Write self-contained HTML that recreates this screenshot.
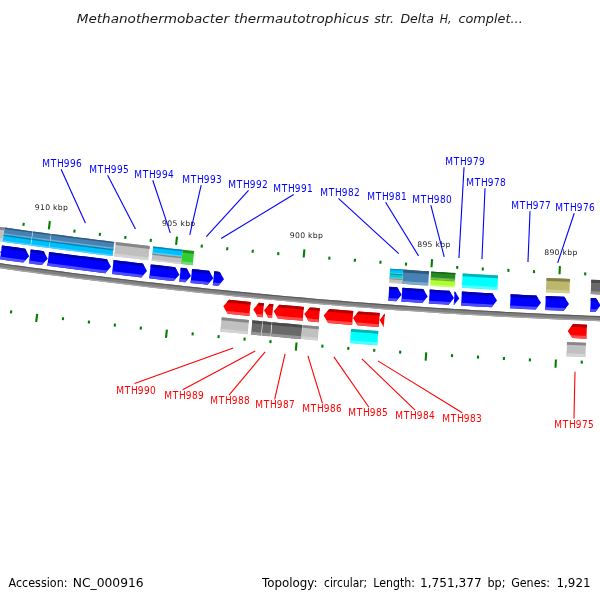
<!DOCTYPE html>
<html lang="en"><head><meta charset="utf-8"><title>Methanothermobacter thermautotrophicus str. Delta H - CGView map</title>
<style>
html,body{margin:0;padding:0;background:#fff}
body{width:600px;height:600px;overflow:hidden;position:relative;font-family:"DejaVu Sans","Liberation Sans",sans-serif}
svg{position:absolute;left:0;top:0;display:block}
svg text{font-family:"DejaVu Sans","Liberation Sans",sans-serif}
svg text.gl{font-family:"DejaVu Sans Condensed","DejaVu Sans","Liberation Sans",sans-serif;font-size:10px}
</style></head><body>
<svg width="600" height="600" viewBox="0 0 600 600">
<rect width="600" height="600" fill="#ffffff"/>
<text y="23.2" font-size="13" fill="#1a1a1a" font-style="italic"><tspan x="76.7" textLength="152.3" lengthAdjust="spacingAndGlyphs">Methanothermobacter</tspan> <tspan x="233.9" textLength="135.1" lengthAdjust="spacingAndGlyphs">thermautotrophicus</tspan> <tspan x="374.2" textLength="19.8" lengthAdjust="spacingAndGlyphs">str.</tspan> <tspan x="400.4" textLength="33.6" lengthAdjust="spacingAndGlyphs">Delta</tspan> <tspan x="439.7" textLength="11.8" lengthAdjust="spacingAndGlyphs">H,</tspan> <tspan x="458.4" textLength="64.4" lengthAdjust="spacingAndGlyphs">complet...</tspan></text>
<g>
<path d="M-9.69,261.79 L0.58,263.24 L10.86,264.68 L21.13,266.09 L31.41,267.49 L41.7,268.86 L51.98,270.22 L62.27,271.57 L72.56,272.89 L82.85,274.19 L93.15,275.48 L103.44,276.75 L113.74,278 L124.04,279.23 L134.34,280.44 L144.65,281.64 L154.96,282.81 L165.27,283.97 L175.58,285.11 L185.89,286.23 L196.21,287.34 L206.53,288.42 L216.84,289.49 L227.17,290.54 L237.49,291.57 L247.81,292.58 L258.14,293.57 L268.47,294.55 L278.8,295.5 L289.13,296.44 L299.46,297.36 L309.8,298.26 L320.14,299.15 L330.48,300.01 L340.81,300.86 L351.16,301.68 L361.5,302.49 L371.84,303.29 L382.19,304.06 L392.54,304.81 L402.88,305.55 L413.23,306.27 L423.58,306.97 L433.94,307.65 L444.29,308.31 L454.64,308.95 L465,309.58 L475.36,310.19 L485.71,310.78 L496.07,311.35 L506.43,311.9 L516.79,312.43 L527.15,312.95 L537.52,313.44 L547.88,313.92 L558.24,314.38 L568.61,314.82 L578.97,315.25 L589.34,315.65 L599.71,316.04 L610.08,316.41 L609.9,321.5 L599.52,321.14 L589.15,320.75 L578.77,320.34 L568.4,319.92 L558.02,319.48 L547.65,319.02 L537.28,318.54 L526.91,318.04 L516.53,317.53 L506.16,316.99 L495.8,316.44 L485.43,315.87 L475.06,315.28 L464.7,314.67 L454.33,314.04 L443.97,313.4 L433.61,312.74 L423.24,312.06 L412.88,311.36 L402.53,310.64 L392.17,309.9 L381.81,309.14 L371.46,308.37 L361.11,307.58 L350.75,306.77 L340.4,305.94 L330.05,305.09 L319.71,304.23 L309.36,303.34 L299.02,302.44 L288.67,301.52 L278.33,300.58 L267.99,299.62 L257.66,298.65 L247.32,297.65 L236.99,296.64 L226.66,295.61 L216.32,294.56 L206,293.49 L195.67,292.41 L185.35,291.3 L175.02,290.18 L164.7,289.04 L154.38,287.88 L144.07,286.7 L133.75,285.51 L123.44,284.29 L113.13,283.06 L102.82,281.81 L92.52,280.54 L82.21,279.25 L71.91,277.95 L61.61,276.62 L51.32,275.28 L41.02,273.92 L30.73,272.54 L20.44,271.14 L10.16,269.73 L-0.13,268.29 L-10.41,266.84Z" fill="#808080"/>
<path d="M-9.69,261.79 L0.58,263.24 L10.86,264.68 L21.13,266.09 L31.41,267.49 L41.7,268.86 L51.98,270.22 L62.27,271.57 L72.56,272.89 L82.85,274.19 L93.15,275.48 L103.44,276.75 L113.74,278 L124.04,279.23 L134.34,280.44 L144.65,281.64 L154.96,282.81 L165.27,283.97 L175.58,285.11 L185.89,286.23 L196.21,287.34 L206.53,288.42 L216.84,289.49 L227.17,290.54 L237.49,291.57 L247.81,292.58 L258.14,293.57 L268.47,294.55 L278.8,295.5 L289.13,296.44 L299.46,297.36 L309.8,298.26 L320.14,299.15 L330.48,300.01 L340.81,300.86 L351.16,301.68 L361.5,302.49 L371.84,303.29 L382.19,304.06 L392.54,304.81 L402.88,305.55 L413.23,306.27 L423.58,306.97 L433.94,307.65 L444.29,308.31 L454.64,308.95 L465,309.58 L475.36,310.19 L485.71,310.78 L496.07,311.35 L506.43,311.9 L516.79,312.43 L527.15,312.95 L537.52,313.44 L547.88,313.92 L558.24,314.38 L568.61,314.82 L578.97,315.25 L589.34,315.65 L599.71,316.04 L610.08,316.41 L610.04,317.51 L599.67,317.14 L589.3,316.75 L578.93,316.35 L568.56,315.92 L558.2,315.48 L547.83,315.02 L537.46,314.54 L527.1,314.05 L516.74,313.53 L506.37,313 L496.01,312.44 L485.65,311.87 L475.29,311.29 L464.93,310.68 L454.58,310.05 L444.22,309.41 L433.86,308.74 L423.51,308.06 L413.16,307.36 L402.81,306.65 L392.46,305.91 L382.11,305.16 L371.76,304.38 L361.41,303.59 L351.07,302.78 L340.73,301.95 L330.38,301.11 L320.04,300.24 L309.71,299.36 L299.37,298.46 L289.03,297.54 L278.7,296.6 L268.37,295.64 L258.04,294.67 L247.71,293.67 L237.38,292.66 L227.06,291.63 L216.73,290.58 L206.41,289.52 L196.09,288.43 L185.77,287.33 L175.46,286.21 L165.15,285.07 L154.83,283.91 L144.52,282.73 L134.22,281.53 L123.91,280.32 L113.61,279.09 L103.31,277.84 L93.01,276.57 L82.71,275.28 L72.42,273.98 L62.13,272.66 L51.84,271.31 L41.55,269.95 L31.27,268.58 L20.99,267.18 L10.71,265.77 L0.43,264.33 L-9.85,262.88Z" fill="#595959"/>
<path d="M-10.24,265.65 L0.04,267.11 L10.32,268.54 L20.61,269.95 L30.89,271.35 L41.18,272.73 L51.47,274.09 L61.77,275.43 L72.07,276.76 L82.36,278.06 L92.67,279.35 L102.97,280.62 L113.27,281.87 L123.58,283.1 L133.89,284.32 L144.2,285.51 L154.52,286.69 L164.84,287.85 L175.15,288.99 L185.47,290.11 L195.8,291.22 L206.12,292.3 L216.45,293.37 L226.78,294.42 L237.11,295.45 L247.44,296.46 L257.77,297.45 L268.11,298.43 L278.44,299.39 L288.78,300.33 L299.12,301.25 L309.46,302.15 L319.81,303.03 L330.15,303.9 L340.5,304.74 L350.85,305.57 L361.2,306.38 L371.55,307.17 L381.9,307.95 L392.26,308.7 L402.61,309.44 L412.97,310.16 L423.32,310.86 L433.68,311.54 L444.04,312.2 L454.4,312.85 L464.77,313.47 L475.13,314.08 L485.5,314.67 L495.86,315.24 L506.23,315.79 L516.6,316.33 L526.96,316.84 L537.33,317.34 L547.7,317.82 L558.07,318.28 L568.45,318.72 L578.82,319.15 L589.19,319.55 L599.57,319.94 L609.94,320.31 L609.9,321.5 L599.52,321.14 L589.15,320.75 L578.77,320.34 L568.4,319.92 L558.02,319.48 L547.65,319.02 L537.28,318.54 L526.91,318.04 L516.53,317.53 L506.16,316.99 L495.8,316.44 L485.43,315.87 L475.06,315.28 L464.7,314.67 L454.33,314.04 L443.97,313.4 L433.61,312.74 L423.24,312.06 L412.88,311.36 L402.53,310.64 L392.17,309.9 L381.81,309.14 L371.46,308.37 L361.11,307.58 L350.75,306.77 L340.4,305.94 L330.05,305.09 L319.71,304.23 L309.36,303.34 L299.02,302.44 L288.67,301.52 L278.33,300.58 L267.99,299.62 L257.66,298.65 L247.32,297.65 L236.99,296.64 L226.66,295.61 L216.32,294.56 L206,293.49 L195.67,292.41 L185.35,291.3 L175.02,290.18 L164.7,289.04 L154.38,287.88 L144.07,286.7 L133.75,285.51 L123.44,284.29 L113.13,283.06 L102.82,281.81 L92.52,280.54 L82.21,279.25 L71.91,277.95 L61.61,276.62 L51.32,275.28 L41.02,273.92 L30.73,272.54 L20.44,271.14 L10.16,269.73 L-0.13,268.29 L-10.41,266.84Z" fill="#a6a6a6"/>
</g>
<path d="M-38.98,239.56 L-31.82,240.62 L-24.65,241.66 L-17.49,242.7 L-10.33,243.72 L-3.16,244.74 L0.8,252.37 L-5.12,258.6 L-12.3,257.58 L-19.49,256.55 L-26.67,255.51 L-33.85,254.47 L-41.02,253.41Z" fill="#0000ff"/>
<path d="M-38.98,239.56 L-31.82,240.62 L-24.65,241.66 L-17.49,242.7 L-10.33,243.72 L-3.16,244.74 L-1.58,247.79 L-3.55,247.51 L-10.72,246.49 L-17.89,245.47 L-25.06,244.43 L-32.22,243.39 L-39.39,242.33Z" fill="#0000b2"/>
<path d="M-40.61,250.64 L-33.44,251.7 L-26.26,252.74 L-19.09,253.78 L-11.91,254.81 L-4.73,255.83 L-2.75,256.11 L-5.12,258.6 L-12.3,257.58 L-19.49,256.55 L-26.67,255.51 L-33.85,254.47 L-41.02,253.41Z" fill="#4d4dff"/>
<path d="M1.97,245.46 L9.72,246.55 L17.46,247.62 L25.2,248.68 L29.2,256.29 L23.31,262.55 L15.55,261.49 L7.79,260.41 L0.03,259.33Z" fill="#0000ff"/>
<path d="M1.97,245.46 L9.72,246.55 L17.46,247.62 L25.2,248.68 L26.8,251.72 L24.82,251.46 L17.08,250.39 L9.33,249.32 L1.58,248.24Z" fill="#0000b2"/>
<path d="M0.42,256.56 L8.17,257.64 L15.93,258.71 L23.69,259.78 L25.67,260.05 L23.31,262.55 L15.55,261.49 L7.79,260.41 L0.03,259.33Z" fill="#4d4dff"/>
<path d="M30.74,249.43 L35.05,250.02 L39.37,250.6 L43.68,251.17 L47.7,258.77 L41.83,265.05 L37.51,264.47 L33.18,263.89 L28.86,263.31Z" fill="#0000ff"/>
<path d="M30.74,249.43 L35.05,250.02 L39.37,250.6 L43.68,251.17 L45.29,254.21 L43.31,253.95 L38.99,253.37 L34.68,252.79 L30.36,252.21Z" fill="#0000b2"/>
<path d="M29.24,260.53 L33.56,261.12 L37.88,261.7 L42.2,262.27 L44.18,262.54 L41.83,265.05 L37.51,264.47 L33.18,263.89 L28.86,263.31Z" fill="#4d4dff"/>
<path d="M49.12,251.89 L58.74,253.16 L68.37,254.41 L78,255.64 L87.63,256.85 L97.26,258.05 L106.9,259.24 L111,266.79 L105.2,273.13 L95.54,271.95 L85.89,270.74 L76.23,269.53 L66.58,268.29 L56.93,267.04 L47.28,265.77Z" fill="#0000ff"/>
<path d="M49.12,251.89 L58.74,253.16 L68.37,254.41 L78,255.64 L87.63,256.85 L97.26,258.05 L106.9,259.24 L108.54,262.26 L106.56,262.02 L96.92,260.83 L87.28,259.63 L77.64,258.41 L68.01,257.18 L58.38,255.93 L48.75,254.67Z" fill="#0000b2"/>
<path d="M47.65,263 L57.29,264.26 L66.94,265.51 L76.59,266.75 L86.23,267.97 L95.89,269.17 L105.54,270.35 L107.52,270.6 L105.2,273.13 L95.54,271.95 L85.89,270.74 L76.23,269.53 L66.58,268.29 L56.93,267.04 L47.28,265.77Z" fill="#4d4dff"/>
<path d="M113.64,260.06 L120.94,260.93 L128.24,261.8 L135.54,262.66 L142.85,263.51 L147,271.04 L141.24,277.42 L133.92,276.57 L126.6,275.71 L119.28,274.83 L111.96,273.96Z" fill="#0000ff"/>
<path d="M113.64,260.06 L120.94,260.93 L128.24,261.8 L135.54,262.66 L142.85,263.51 L144.51,266.52 L142.53,266.29 L135.22,265.44 L127.91,264.58 L120.61,263.71 L113.3,262.84Z" fill="#0000b2"/>
<path d="M112.3,271.18 L119.61,272.05 L126.93,272.92 L134.24,273.79 L141.56,274.64 L143.54,274.87 L141.24,277.42 L133.92,276.57 L126.6,275.71 L119.28,274.83 L111.96,273.96Z" fill="#4d4dff"/>
<path d="M150.8,264.43 L156.9,265.12 L163,265.81 L169.1,266.49 L175.21,267.16 L179.4,274.67 L173.68,281.08 L167.56,280.4 L161.44,279.72 L155.32,279.03 L149.2,278.33Z" fill="#0000ff"/>
<path d="M150.8,264.43 L156.9,265.12 L163,265.81 L169.1,266.49 L175.21,267.16 L176.88,270.16 L174.9,269.95 L168.79,269.27 L162.69,268.59 L156.58,267.9 L150.48,267.21Z" fill="#0000b2"/>
<path d="M149.52,275.55 L155.64,276.25 L161.75,276.94 L167.87,277.62 L173.98,278.3 L175.97,278.51 L173.68,281.08 L167.56,280.4 L161.44,279.72 L155.32,279.03 L149.2,278.33Z" fill="#4d4dff"/>
<path d="M180.76,267.77 L183.78,268.1 L186.79,268.43 L191,275.92 L185.29,282.35 L182.26,282.02 L179.24,281.69Z" fill="#0000ff"/>
<path d="M180.76,267.77 L183.78,268.1 L186.79,268.43 L188.47,271.42 L186.49,271.21 L183.47,270.88 L180.46,270.56Z" fill="#0000b2"/>
<path d="M179.54,278.91 L182.57,279.24 L185.59,279.56 L187.57,279.78 L185.29,282.35 L182.26,282.02 L179.24,281.69Z" fill="#4d4dff"/>
<path d="M192.05,268.99 L197.72,269.6 L203.39,270.2 L209.06,270.79 L213.3,278.27 L207.61,284.71 L201.93,284.12 L196.24,283.52 L190.55,282.91Z" fill="#0000ff"/>
<path d="M192.05,268.99 L197.72,269.6 L203.39,270.2 L209.06,270.79 L210.76,273.78 L208.77,273.57 L203.1,272.98 L197.42,272.38 L191.75,271.78Z" fill="#0000b2"/>
<path d="M190.85,280.13 L196.54,280.73 L202.22,281.33 L207.9,281.93 L209.89,282.14 L207.61,284.71 L201.93,284.12 L196.24,283.52 L190.55,282.91Z" fill="#4d4dff"/>
<path d="M214.22,271.32 L216.98,271.61 L219.75,271.89 L224,279.36 L218.32,285.82 L215.55,285.54 L212.78,285.25Z" fill="#0000ff"/>
<path d="M214.22,271.32 L216.98,271.61 L219.75,271.89 L221.45,274.88 L219.46,274.68 L216.7,274.39 L213.93,274.11Z" fill="#0000b2"/>
<path d="M213.07,282.47 L215.84,282.75 L218.61,283.03 L220.6,283.24 L218.32,285.82 L215.55,285.54 L212.78,285.25Z" fill="#4d4dff"/>
<path d="M389.31,286.73 L393.27,287.02 L397.22,287.3 L401.7,294.64 L396.22,301.27 L392.26,300.98 L388.29,300.7Z" fill="#0000ff"/>
<path d="M389.31,286.73 L393.27,287.02 L397.22,287.3 L399.01,290.24 L397.02,290.1 L393.06,289.81 L389.1,289.53Z" fill="#0000b2"/>
<path d="M388.5,297.9 L392.46,298.19 L396.42,298.48 L398.42,298.62 L396.22,301.27 L392.26,300.98 L388.29,300.7Z" fill="#4d4dff"/>
<path d="M402.39,287.67 L409.32,288.16 L416.26,288.63 L423.19,289.1 L427.7,296.42 L422.25,303.07 L415.3,302.6 L408.36,302.12 L401.41,301.64Z" fill="#0000ff"/>
<path d="M402.39,287.67 L409.32,288.16 L416.26,288.63 L423.19,289.1 L424.99,292.03 L423,291.89 L416.07,291.43 L409.13,290.95 L402.2,290.46Z" fill="#0000b2"/>
<path d="M401.6,298.84 L408.55,299.33 L415.5,299.81 L422.44,300.28 L424.43,300.41 L422.25,303.07 L415.3,302.6 L408.36,302.12 L401.41,301.64Z" fill="#4d4dff"/>
<path d="M429.76,289.54 L436.32,289.96 L442.89,290.39 L449.46,290.8 L454,298.09 L448.58,304.77 L442,304.36 L435.42,303.94 L428.84,303.51Z" fill="#0000ff"/>
<path d="M429.76,289.54 L436.32,289.96 L442.89,290.39 L449.46,290.8 L451.27,293.72 L449.28,293.59 L442.71,293.18 L436.14,292.76 L429.58,292.33Z" fill="#0000b2"/>
<path d="M429.02,300.71 L435.6,301.14 L442.18,301.56 L448.76,301.98 L450.75,302.1 L448.58,304.77 L442,304.36 L435.42,303.94 L428.84,303.51Z" fill="#4d4dff"/>
<path d="M454.63,291.12 L454.69,291.12 L454.75,291.13 L459.3,298.42 L453.89,305.1 L453.83,305.1 L453.77,305.09Z" fill="#0000ff"/>
<path d="M454.63,291.12 L454.69,291.12 L454.75,291.13 L456.57,294.04 L454.58,293.92 L454.52,293.92 L454.46,293.91Z" fill="#0000b2"/>
<path d="M453.94,302.3 L454,302.3 L454.06,302.31 L456.06,302.43 L453.89,305.1 L453.83,305.1 L453.77,305.09Z" fill="#4d4dff"/>
<path d="M461.92,291.56 L469.54,292.02 L477.16,292.46 L484.78,292.9 L492.4,293.32 L497,300.58 L491.63,307.3 L483.99,306.87 L476.36,306.44 L468.72,305.99 L461.08,305.54Z" fill="#0000ff"/>
<path d="M461.92,291.56 L469.54,292.02 L477.16,292.46 L484.78,292.9 L492.4,293.32 L494.24,296.22 L492.25,296.12 L484.62,295.69 L477,295.26 L469.38,294.81 L461.75,294.36Z" fill="#0000b2"/>
<path d="M461.25,302.74 L468.88,303.2 L476.52,303.64 L484.15,304.08 L491.79,304.5 L493.78,304.61 L491.63,307.3 L483.99,306.87 L476.36,306.44 L468.72,305.99 L461.08,305.54Z" fill="#4d4dff"/>
<path d="M510.66,294.3 L517.08,294.62 L523.5,294.95 L529.93,295.26 L536.35,295.57 L541,302.8 L535.69,309.55 L529.25,309.25 L522.81,308.93 L516.37,308.61 L509.94,308.28Z" fill="#0000ff"/>
<path d="M510.66,294.3 L517.08,294.62 L523.5,294.95 L529.93,295.26 L536.35,295.57 L538.21,298.46 L536.22,298.37 L529.79,298.06 L523.37,297.74 L516.94,297.42 L510.52,297.09Z" fill="#0000b2"/>
<path d="M510.08,305.48 L516.52,305.81 L522.95,306.13 L529.38,306.45 L535.82,306.76 L537.81,306.85 L535.69,309.55 L529.25,309.25 L522.81,308.93 L516.37,308.61 L509.94,308.28Z" fill="#4d4dff"/>
<path d="M545.82,296.01 L551.98,296.29 L558.15,296.56 L564.31,296.83 L569,304.03 L563.72,310.82 L557.54,310.55 L551.36,310.28 L545.18,310Z" fill="#0000ff"/>
<path d="M545.82,296.01 L551.98,296.29 L558.15,296.56 L564.31,296.83 L566.19,299.71 L564.19,299.63 L558.03,299.36 L551.86,299.09 L545.69,298.81Z" fill="#0000b2"/>
<path d="M545.31,307.2 L551.48,307.48 L557.66,307.75 L563.84,308.02 L565.83,308.1 L563.72,310.82 L557.54,310.55 L551.36,310.28 L545.18,310Z" fill="#4d4dff"/>
<path d="M590.77,297.89 L593.32,297.99 L595.87,298.09 L600.6,305.26 L595.35,312.08 L592.79,311.98 L590.23,311.88Z" fill="#0000ff"/>
<path d="M590.77,297.89 L593.32,297.99 L595.87,298.09 L597.76,300.96 L595.77,300.88 L593.22,300.79 L590.66,300.69Z" fill="#0000b2"/>
<path d="M590.34,309.09 L592.9,309.18 L595.46,309.28 L597.45,309.35 L595.35,312.08 L592.79,311.98 L590.23,311.88Z" fill="#4d4dff"/>
<path d="M250.67,302 L243.44,301.3 L236.21,300.58 L228.98,299.87 L223.3,306.33 L227.59,313.8 L234.83,314.52 L242.08,315.23 L249.33,315.93Z" fill="#ff0000"/>
<path d="M250.67,302 L243.44,301.3 L236.21,300.58 L228.98,299.87 L226.71,302.45 L228.71,302.65 L235.94,303.37 L243.17,304.08 L250.4,304.78Z" fill="#b20000"/>
<path d="M249.6,313.15 L242.35,312.44 L235.11,311.73 L227.87,311.01 L225.87,310.81 L227.59,313.8 L234.83,314.52 L242.08,315.23 L249.33,315.93Z" fill="#ff4d4d"/>
<path d="M263.96,303.26 L261.45,303.03 L258.95,302.79 L253.3,309.28 L257.63,316.73 L260.14,316.96 L262.64,317.2Z" fill="#ff0000"/>
<path d="M263.96,303.26 L261.45,303.03 L258.95,302.79 L256.69,305.39 L258.69,305.58 L261.19,305.81 L263.69,306.05Z" fill="#b20000"/>
<path d="M262.91,314.41 L260.4,314.18 L257.89,313.94 L255.89,313.75 L257.63,316.73 L260.14,316.96 L262.64,317.2Z" fill="#ff4d4d"/>
<path d="M273.34,304.14 L271.49,303.97 L269.64,303.8 L264,310.3 L268.34,317.73 L270.2,317.91 L272.06,318.08Z" fill="#ff0000"/>
<path d="M273.34,304.14 L271.49,303.97 L269.64,303.8 L267.38,306.4 L269.38,306.58 L271.23,306.76 L273.09,306.93Z" fill="#b20000"/>
<path d="M272.31,315.29 L270.46,315.12 L268.6,314.95 L266.6,314.76 L268.34,317.73 L270.2,317.91 L272.06,318.08Z" fill="#ff4d4d"/>
<path d="M303.91,306.89 L297.76,306.35 L291.62,305.8 L285.47,305.25 L279.33,304.69 L273.7,311.2 L278.05,318.63 L284.21,319.19 L290.37,319.74 L296.53,320.29 L302.69,320.83Z" fill="#ff0000"/>
<path d="M303.91,306.89 L297.76,306.35 L291.62,305.8 L285.47,305.25 L279.33,304.69 L277.08,307.3 L279.07,307.48 L285.22,308.04 L291.37,308.59 L297.52,309.14 L303.66,309.67Z" fill="#b20000"/>
<path d="M302.94,318.04 L296.78,317.5 L290.62,316.96 L284.46,316.4 L278.31,315.84 L276.31,315.66 L278.05,318.63 L284.21,319.19 L290.37,319.74 L296.53,320.29 L302.69,320.83Z" fill="#ff4d4d"/>
<path d="M319.89,308.26 L314.89,307.83 L309.89,307.4 L304.3,313.95 L308.69,321.35 L313.7,321.78 L318.71,322.21Z" fill="#ff0000"/>
<path d="M319.89,308.26 L314.89,307.83 L309.89,307.4 L307.66,310.02 L309.65,310.19 L314.65,310.62 L319.65,311.05Z" fill="#b20000"/>
<path d="M318.95,319.42 L313.94,318.99 L308.93,318.56 L306.93,318.39 L308.69,321.35 L313.7,321.78 L318.71,322.21Z" fill="#ff4d4d"/>
<path d="M353.25,310.98 L347.25,310.5 L341.26,310.02 L335.27,309.54 L329.27,309.04 L323.7,315.6 L328.12,322.99 L334.12,323.49 L340.13,323.98 L346.14,324.46 L352.15,324.94Z" fill="#ff0000"/>
<path d="M353.25,310.98 L347.25,310.5 L341.26,310.02 L335.27,309.54 L329.27,309.04 L327.04,311.67 L329.04,311.83 L335.04,312.33 L341.03,312.81 L347.03,313.29 L353.03,313.77Z" fill="#b20000"/>
<path d="M352.37,322.14 L346.36,321.67 L340.36,321.19 L334.35,320.7 L328.35,320.2 L326.35,320.04 L328.12,322.99 L334.12,323.49 L340.13,323.98 L346.14,324.46 L352.15,324.94Z" fill="#ff4d4d"/>
<path d="M379.82,313.01 L372.72,312.48 L365.63,311.94 L358.54,311.39 L353,317.98 L357.45,325.35 L364.56,325.9 L371.67,326.44 L378.78,326.97Z" fill="#ff0000"/>
<path d="M379.82,313.01 L372.72,312.48 L365.63,311.94 L358.54,311.39 L356.33,314.03 L358.32,314.18 L365.42,314.73 L372.51,315.27 L379.61,315.8Z" fill="#b20000"/>
<path d="M378.99,324.18 L371.88,323.65 L364.78,323.11 L357.67,322.56 L355.67,322.4 L357.45,325.35 L364.56,325.9 L371.67,326.44 L378.78,326.97Z" fill="#ff4d4d"/>
<path d="M384.81,313.38 L384.81,313.38 L384.81,313.38 L379.6,320.01 L383.79,327.34 L383.79,327.34 L383.79,327.34Z" fill="#ff0000"/>
<path d="M384.81,313.38 L384.81,313.38 L384.81,313.38 L382.73,316.03 L384.61,316.17 L384.61,316.17 L384.61,316.17Z" fill="#b20000"/>
<path d="M383.99,324.55 L383.99,324.55 L383.99,324.55 L382.11,324.41 L383.79,327.34 L383.79,327.34 L383.79,327.34Z" fill="#ff4d4d"/>
<path d="M586.97,324.67 L582.31,324.49 L577.65,324.3 L572.99,324.11 L567.7,330.9 L572.42,338.1 L577.09,338.29 L581.76,338.48 L586.43,338.66Z" fill="#ff0000"/>
<path d="M586.97,324.67 L582.31,324.49 L577.65,324.3 L572.99,324.11 L570.88,326.83 L572.88,326.91 L577.54,327.1 L582.2,327.29 L586.86,327.47Z" fill="#b20000"/>
<path d="M586.54,335.86 L581.87,335.68 L577.2,335.49 L572.54,335.3 L570.53,335.22 L572.42,338.1 L577.09,338.29 L581.76,338.48 L586.43,338.66Z" fill="#ff4d4d"/>
<path d="M-8.99,225.63 L-4.53,226.27 L-0.07,226.9 L4.4,227.53 L2.4,241.69 L-2.07,241.06 L-6.54,240.42 L-11.01,239.79Z" fill="#c0c0c0"/>
<path d="M-8.99,225.63 L-4.53,226.27 L-0.07,226.9 L4.4,227.53 L4,230.36 L-0.47,229.73 L-4.93,229.1 L-9.39,228.46Z" fill="#868686"/>
<path d="M-10.61,236.96 L-6.14,237.59 L-1.67,238.23 L2.8,238.86 L2.4,241.69 L-2.07,241.06 L-6.54,240.42 L-11.01,239.79Z" fill="#d3d3d3"/>
<path d="M4.59,227.56 L11.56,228.53 L18.53,229.5 L25.49,230.45 L32.46,231.4 L31.5,238.49 L24.52,237.54 L17.55,236.58 L10.57,235.61 L3.6,234.64Z" fill="#4682b4"/>
<path d="M4.59,227.56 L11.56,228.53 L18.53,229.5 L25.49,230.45 L32.46,231.4 L32.27,232.82 L25.3,231.87 L18.33,230.91 L11.36,229.95 L4.4,228.97Z" fill="#315b7e"/>
<path d="M3.8,233.22 L10.77,234.19 L17.74,235.16 L24.72,236.12 L31.69,237.07 L31.5,238.49 L24.52,237.54 L17.55,236.58 L10.57,235.61 L3.6,234.64Z" fill="#7ea8ca"/>
<path d="M3.6,234.64 L10.57,235.61 L17.55,236.58 L24.52,237.54 L31.5,238.49 L30.54,245.57 L23.55,244.62 L16.57,243.66 L9.59,242.69 L2.61,241.72Z" fill="#00bfff"/>
<path d="M3.6,234.64 L10.57,235.61 L17.55,236.58 L24.52,237.54 L31.5,238.49 L31.31,239.9 L24.33,238.95 L17.35,237.99 L10.38,237.03 L3.4,236.05Z" fill="#0086b2"/>
<path d="M2.8,240.3 L9.78,241.28 L16.77,242.24 L23.75,243.2 L30.73,244.15 L30.54,245.57 L23.55,244.62 L16.57,243.66 L9.59,242.69 L2.61,241.72Z" fill="#4dd2ff"/>
<path d="M32.96,231.47 L38.95,232.28 L44.94,233.08 L50.94,233.88 L50,240.96 L44,240.17 L38,239.36 L32,238.55Z" fill="#4682b4"/>
<path d="M32.96,231.47 L38.95,232.28 L44.94,233.08 L50.94,233.88 L50.75,235.29 L44.76,234.5 L38.76,233.69 L32.77,232.89Z" fill="#315b7e"/>
<path d="M32.19,237.14 L38.19,237.95 L44.19,238.75 L50.19,239.55 L50,240.96 L44,240.17 L38,239.36 L32,238.55Z" fill="#7ea8ca"/>
<path d="M32,238.55 L38,239.36 L44,240.17 L50,240.96 L49.06,248.05 L43.05,247.25 L37.05,246.45 L31.04,245.64Z" fill="#00bfff"/>
<path d="M32,238.55 L38,239.36 L44,240.17 L50,240.96 L49.81,242.38 L43.81,241.58 L37.81,240.78 L31.81,239.97Z" fill="#0086b2"/>
<path d="M31.23,244.22 L37.24,245.03 L43.24,245.84 L49.25,246.63 L49.06,248.05 L43.05,247.25 L37.05,246.45 L31.04,245.64Z" fill="#4dd2ff"/>
<path d="M51.34,233.93 L60.32,235.11 L69.31,236.28 L78.29,237.43 L87.28,238.57 L96.27,239.69 L105.27,240.8 L114.26,241.9 L113.4,249 L104.39,247.9 L95.39,246.79 L86.39,245.66 L77.39,244.52 L68.39,243.37 L59.39,242.2 L50.4,241.02Z" fill="#4682b4"/>
<path d="M51.34,233.93 L60.32,235.11 L69.31,236.28 L78.29,237.43 L87.28,238.57 L96.27,239.69 L105.27,240.8 L114.26,241.9 L114.09,243.32 L105.09,242.22 L96.1,241.11 L87.1,239.99 L78.11,238.85 L69.12,237.69 L60.14,236.53 L51.15,235.35Z" fill="#315b7e"/>
<path d="M50.59,239.6 L59.58,240.78 L68.57,241.95 L77.57,243.1 L86.57,244.24 L95.57,245.37 L104.57,246.48 L113.57,247.58 L113.4,249 L104.39,247.9 L95.39,246.79 L86.39,245.66 L77.39,244.52 L68.39,243.37 L59.39,242.2 L50.4,241.02Z" fill="#7ea8ca"/>
<path d="M50.4,241.02 L59.39,242.2 L68.39,243.37 L77.39,244.52 L86.39,245.66 L95.39,246.79 L104.39,247.9 L113.4,249 L112.54,256.1 L103.52,255 L94.51,253.88 L85.5,252.76 L76.49,251.61 L67.48,250.46 L58.47,249.29 L49.46,248.11Z" fill="#00bfff"/>
<path d="M50.4,241.02 L59.39,242.2 L68.39,243.37 L77.39,244.52 L86.39,245.66 L95.39,246.79 L104.39,247.9 L113.4,249 L113.23,250.42 L104.22,249.32 L95.21,248.21 L86.21,247.08 L77.21,245.94 L68.21,244.79 L59.21,243.62 L50.21,242.43Z" fill="#0086b2"/>
<path d="M49.65,246.69 L58.65,247.87 L67.66,249.04 L76.67,250.2 L85.67,251.34 L94.69,252.46 L103.7,253.58 L112.71,254.68 L112.54,256.1 L103.52,255 L94.51,253.88 L85.5,252.76 L76.49,251.61 L67.48,250.46 L58.47,249.29 L49.46,248.11Z" fill="#4dd2ff"/>
<path d="M115.86,242.09 L124.35,243.11 L132.83,244.12 L141.32,245.11 L149.82,246.09 L148.18,260.3 L139.67,259.32 L131.16,258.32 L122.65,257.31 L114.14,256.29Z" fill="#c0c0c0"/>
<path d="M115.86,242.09 L124.35,243.11 L132.83,244.12 L141.32,245.11 L149.82,246.09 L149.49,248.94 L140.99,247.95 L132.5,246.96 L124.01,245.95 L115.51,244.93Z" fill="#868686"/>
<path d="M114.49,253.45 L122.99,254.47 L131.49,255.48 L140,256.48 L148.51,257.46 L148.18,260.3 L139.67,259.32 L131.16,258.32 L122.65,257.31 L114.14,256.29Z" fill="#d3d3d3"/>
<path d="M153.21,246.48 L160.55,247.32 L167.89,248.14 L175.23,248.96 L182.58,249.76 L181.8,256.87 L174.45,256.06 L167.1,255.25 L159.75,254.42 L152.4,253.59Z" fill="#00bfff"/>
<path d="M153.21,246.48 L160.55,247.32 L167.89,248.14 L175.23,248.96 L182.58,249.76 L182.42,251.18 L175.08,250.38 L167.73,249.56 L160.39,248.74 L153.05,247.9Z" fill="#0086b2"/>
<path d="M152.56,252.17 L159.91,253 L167.26,253.83 L174.61,254.64 L181.96,255.45 L181.8,256.87 L174.45,256.06 L167.1,255.25 L159.75,254.42 L152.4,253.59Z" fill="#4dd2ff"/>
<path d="M152.4,253.59 L159.75,254.42 L167.1,255.25 L174.45,256.06 L181.8,256.87 L181.02,263.98 L173.66,263.17 L166.3,262.35 L158.95,261.53 L151.59,260.69Z" fill="#c0c0c0"/>
<path d="M152.4,253.59 L159.75,254.42 L167.1,255.25 L174.45,256.06 L181.8,256.87 L181.64,258.29 L174.29,257.49 L166.94,256.67 L159.59,255.84 L152.24,255.01Z" fill="#868686"/>
<path d="M151.75,259.27 L159.11,260.11 L166.46,260.93 L173.82,261.75 L181.18,262.56 L181.02,263.98 L173.66,263.17 L166.3,262.35 L158.95,261.53 L151.59,260.69Z" fill="#d3d3d3"/>
<path d="M182.68,249.77 L188.42,250.4 L194.16,251.02 L192.64,265.23 L186.88,264.61 L181.12,263.99Z" fill="#32cd32"/>
<path d="M182.68,249.77 L188.42,250.4 L194.16,251.02 L193.86,253.86 L188.11,253.24 L182.37,252.62Z" fill="#239023"/>
<path d="M181.43,261.15 L187.19,261.77 L192.94,262.39 L192.64,265.23 L186.88,264.61 L181.12,263.99Z" fill="#70dc70"/>
<path d="M390.12,268.64 L394.45,268.96 L398.78,269.27 L403.1,269.58 L402.77,274.33 L398.44,274.02 L394.1,273.71 L389.77,273.4Z" fill="#00bfff"/>
<path d="M390.12,268.64 L394.45,268.96 L398.78,269.27 L403.1,269.58 L403.04,270.53 L398.71,270.22 L394.38,269.91 L390.05,269.59Z" fill="#0086b2"/>
<path d="M389.84,272.45 L394.17,272.76 L398.5,273.07 L402.84,273.38 L402.77,274.33 L398.44,274.02 L394.1,273.71 L389.77,273.4Z" fill="#4dd2ff"/>
<path d="M389.77,273.4 L394.1,273.71 L398.44,274.02 L402.77,274.33 L402.43,279.09 L398.1,278.78 L393.76,278.47 L389.43,278.15Z" fill="#00ced1"/>
<path d="M389.77,273.4 L394.1,273.71 L398.44,274.02 L402.77,274.33 L402.7,275.28 L398.37,274.97 L394.04,274.66 L389.7,274.35Z" fill="#009092"/>
<path d="M389.5,277.2 L393.83,277.52 L398.16,277.83 L402.5,278.13 L402.43,279.09 L398.1,278.78 L393.76,278.47 L389.43,278.15Z" fill="#4ddddf"/>
<path d="M389.43,278.15 L393.76,278.47 L398.1,278.78 L402.43,279.09 L402.1,283.84 L397.76,283.53 L393.42,283.22 L389.08,282.91Z" fill="#c0c0c0"/>
<path d="M389.43,278.15 L393.76,278.47 L398.1,278.78 L402.43,279.09 L402.36,280.04 L398.03,279.73 L393.69,279.42 L389.36,279.1Z" fill="#868686"/>
<path d="M389.15,281.96 L393.49,282.27 L397.83,282.58 L402.16,282.89 L402.1,283.84 L397.76,283.53 L393.42,283.22 L389.08,282.91Z" fill="#d3d3d3"/>
<path d="M403.3,269.59 L409.74,270.04 L416.19,270.49 L422.63,270.92 L429.07,271.35 L428.13,285.62 L421.67,285.19 L415.21,284.75 L408.75,284.31 L402.3,283.85Z" fill="#4682b4"/>
<path d="M403.3,269.59 L409.74,270.04 L416.19,270.49 L422.63,270.92 L429.07,271.35 L428.88,274.21 L422.44,273.78 L415.99,273.34 L409.55,272.89 L403.1,272.44Z" fill="#315b7e"/>
<path d="M402.5,281 L408.95,281.45 L415.41,281.9 L421.86,282.34 L428.32,282.77 L428.13,285.62 L421.67,285.19 L415.21,284.75 L408.75,284.31 L402.3,283.85Z" fill="#7ea8ca"/>
<path d="M431.17,271.49 L437.24,271.89 L443.3,272.28 L449.37,272.66 L455.44,273.04 L455,280.17 L448.92,279.79 L442.85,279.41 L436.77,279.02 L430.7,278.62Z" fill="#228b22"/>
<path d="M431.17,271.49 L437.24,271.89 L443.3,272.28 L449.37,272.66 L455.44,273.04 L455.35,274.46 L449.28,274.09 L443.21,273.7 L437.14,273.31 L431.08,272.92Z" fill="#186118"/>
<path d="M430.79,277.2 L436.87,277.59 L442.94,277.98 L449.01,278.37 L455.09,278.74 L455,280.17 L448.92,279.79 L442.85,279.41 L436.77,279.02 L430.7,278.62Z" fill="#64ae64"/>
<path d="M430.7,278.62 L436.77,279.02 L442.85,279.41 L448.92,279.79 L455,280.17 L454.56,287.31 L448.48,286.93 L442.39,286.55 L436.31,286.16 L430.23,285.76Z" fill="#adff2f"/>
<path d="M430.7,278.62 L436.77,279.02 L442.85,279.41 L448.92,279.79 L455,280.17 L454.91,281.6 L448.84,281.22 L442.76,280.84 L436.68,280.45 L430.61,280.05Z" fill="#79b221"/>
<path d="M430.32,284.33 L436.4,284.73 L442.49,285.12 L448.57,285.5 L454.65,285.88 L454.56,287.31 L448.48,286.93 L442.39,286.55 L436.31,286.16 L430.23,285.76Z" fill="#c6ff6d"/>
<path d="M462.73,273.48 L471.57,274.01 L480.41,274.52 L489.25,275.02 L498.09,275.5 L497.31,289.78 L488.45,289.3 L479.59,288.79 L470.73,288.28 L461.87,287.75Z" fill="#00ffff"/>
<path d="M462.73,273.48 L471.57,274.01 L480.41,274.52 L489.25,275.02 L498.09,275.5 L497.93,278.36 L489.09,277.87 L480.24,277.37 L471.4,276.86 L462.56,276.33Z" fill="#00b2b2"/>
<path d="M462.04,284.9 L470.9,285.43 L479.75,285.94 L488.61,286.44 L497.47,286.93 L497.31,289.78 L488.45,289.3 L479.59,288.79 L470.73,288.28 L461.87,287.75Z" fill="#4dffff"/>
<path d="M546.53,277.92 L554.35,278.28 L562.17,278.62 L570,278.95 L569.4,293.24 L561.56,292.91 L553.72,292.56 L545.87,292.21Z" fill="#bdb76b"/>
<path d="M546.53,277.92 L554.35,278.28 L562.17,278.62 L570,278.95 L569.88,281.81 L562.05,281.48 L554.22,281.13 L546.4,280.78Z" fill="#84804b"/>
<path d="M546,289.35 L553.84,289.71 L561.68,290.05 L569.52,290.38 L569.4,293.24 L561.56,292.91 L553.72,292.56 L545.87,292.21Z" fill="#d1cd97"/>
<path d="M591.27,279.8 L599.43,280.11 L607.58,280.4 L615.74,280.68 L623.9,280.95 L632.05,281.21 L640.21,281.46 L639.79,295.75 L631.61,295.5 L623.43,295.24 L615.26,294.97 L607.08,294.69 L598.9,294.4 L590.73,294.09Z" fill="#696969"/>
<path d="M591.27,279.8 L599.43,280.11 L607.58,280.4 L615.74,280.68 L623.9,280.95 L632.05,281.21 L640.21,281.46 L640.13,284.32 L631.97,284.07 L623.8,283.81 L615.64,283.54 L607.48,283.26 L599.32,282.96 L591.16,282.66Z" fill="#4a4a4a"/>
<path d="M590.84,291.23 L599.01,291.54 L607.18,291.83 L615.35,292.11 L623.53,292.38 L631.7,292.64 L639.87,292.89 L639.79,295.75 L631.61,295.5 L623.43,295.24 L615.26,294.97 L607.08,294.69 L598.9,294.4 L590.73,294.09Z" fill="#969696"/>
<path d="M221.71,317.32 L228.53,318.01 L235.35,318.69 L242.16,319.36 L248.98,320.02 L247.62,334.15 L240.78,333.49 L233.95,332.82 L227.12,332.14 L220.29,331.45Z" fill="#c0c0c0"/>
<path d="M221.71,317.32 L228.53,318.01 L235.35,318.69 L242.16,319.36 L248.98,320.02 L248.71,322.85 L241.89,322.18 L235.07,321.51 L228.25,320.84 L221.43,320.15Z" fill="#868686"/>
<path d="M220.57,328.63 L227.4,329.31 L234.23,329.99 L241.06,330.66 L247.89,331.33 L247.62,334.15 L240.78,333.49 L233.95,332.82 L227.12,332.14 L220.29,331.45Z" fill="#d3d3d3"/>
<path d="M252.38,320.34 L257.37,320.82 L262.37,321.29 L261.03,335.43 L256.03,334.96 L251.02,334.48Z" fill="#696969"/>
<path d="M252.38,320.34 L257.37,320.82 L262.37,321.29 L262.1,324.12 L257.1,323.65 L252.11,323.17Z" fill="#4a4a4a"/>
<path d="M251.29,331.65 L256.3,332.13 L261.3,332.6 L261.03,335.43 L256.03,334.96 L251.02,334.48Z" fill="#969696"/>
<path d="M262.96,321.35 L267.31,321.76 L271.65,322.16 L270.35,336.3 L265.99,335.9 L261.64,335.49Z" fill="#696969"/>
<path d="M262.96,321.35 L267.31,321.76 L271.65,322.16 L271.39,324.99 L267.05,324.58 L262.7,324.18Z" fill="#4a4a4a"/>
<path d="M261.9,332.66 L266.25,333.07 L270.61,333.47 L270.35,336.3 L265.99,335.9 L261.64,335.49Z" fill="#969696"/>
<path d="M272.35,322.22 L279.84,322.91 L287.33,323.59 L294.82,324.26 L302.32,324.92 L301.08,339.06 L293.57,338.4 L286.06,337.73 L278.55,337.05 L271.05,336.36Z" fill="#696969"/>
<path d="M272.35,322.22 L279.84,322.91 L287.33,323.59 L294.82,324.26 L302.32,324.92 L302.07,327.74 L294.57,327.09 L287.08,326.42 L279.59,325.74 L272.09,325.05Z" fill="#4a4a4a"/>
<path d="M271.31,333.54 L278.81,334.22 L286.32,334.9 L293.82,335.57 L301.33,336.23 L301.08,339.06 L293.57,338.4 L286.06,337.73 L278.55,337.05 L271.05,336.36Z" fill="#969696"/>
<path d="M302.62,324.94 L308.04,325.41 L313.47,325.88 L318.9,326.34 L317.7,340.49 L312.26,340.03 L306.82,339.56 L301.38,339.09Z" fill="#c0c0c0"/>
<path d="M302.62,324.94 L308.04,325.41 L313.47,325.88 L318.9,326.34 L318.66,329.17 L313.23,328.71 L307.8,328.24 L302.37,327.77Z" fill="#868686"/>
<path d="M301.63,336.26 L307.07,336.73 L312.5,337.2 L317.94,337.66 L317.7,340.49 L312.26,340.03 L306.82,339.56 L301.38,339.09Z" fill="#d3d3d3"/>
<path d="M351.06,328.96 L357.87,329.5 L364.69,330.02 L371.51,330.54 L378.32,331.05 L377.28,345.21 L370.44,344.7 L363.61,344.18 L356.77,343.65 L349.94,343.12Z" fill="#00ffff"/>
<path d="M351.06,328.96 L357.87,329.5 L364.69,330.02 L371.51,330.54 L378.32,331.05 L378.11,333.88 L371.29,333.37 L364.47,332.85 L357.65,332.33 L350.83,331.79Z" fill="#00b2b2"/>
<path d="M350.17,340.29 L356.99,340.82 L363.82,341.35 L370.65,341.87 L377.49,342.38 L377.28,345.21 L370.44,344.7 L363.61,344.18 L356.77,343.65 L349.94,343.12Z" fill="#4dffff"/>
<path d="M567,341.98 L573.32,342.24 L579.65,342.5 L585.97,342.74 L585.43,356.93 L579.09,356.69 L572.74,356.43 L566.4,356.17Z" fill="#c0c0c0"/>
<path d="M567,341.98 L573.32,342.24 L579.65,342.5 L585.97,342.74 L585.86,345.58 L579.54,345.33 L573.21,345.08 L566.88,344.82Z" fill="#868686"/>
<path d="M566.52,353.33 L572.86,353.59 L579.2,353.85 L585.54,354.1 L585.43,356.93 L579.09,356.69 L572.74,356.43 L566.4,356.17Z" fill="#d3d3d3"/>
<line x1="-78.09" y1="211.08" x2="-76.83" y2="202.98" stroke="#008000" stroke-width="2.1"/>
<line x1="-52.74" y1="214.96" x2="-52.3" y2="211.99" stroke="#008000" stroke-width="2.1"/>
<line x1="-27.38" y1="218.73" x2="-26.94" y2="215.76" stroke="#008000" stroke-width="2.1"/>
<line x1="-2" y1="222.38" x2="-1.58" y2="219.41" stroke="#008000" stroke-width="2.1"/>
<line x1="23.4" y1="225.93" x2="23.81" y2="222.95" stroke="#008000" stroke-width="2.1"/>
<line x1="48.81" y1="229.36" x2="49.89" y2="221.23" stroke="#008000" stroke-width="2.1"/>
<line x1="74.24" y1="232.68" x2="74.62" y2="229.7" stroke="#008000" stroke-width="2.1"/>
<line x1="99.68" y1="235.88" x2="100.05" y2="232.91" stroke="#008000" stroke-width="2.1"/>
<line x1="125.14" y1="238.98" x2="125.49" y2="236" stroke="#008000" stroke-width="2.1"/>
<line x1="150.61" y1="241.96" x2="150.95" y2="238.98" stroke="#008000" stroke-width="2.1"/>
<line x1="176.09" y1="244.83" x2="176.99" y2="236.68" stroke="#008000" stroke-width="2.1"/>
<line x1="201.59" y1="247.58" x2="201.9" y2="244.6" stroke="#008000" stroke-width="2.1"/>
<line x1="227.09" y1="250.23" x2="227.39" y2="247.24" stroke="#008000" stroke-width="2.1"/>
<line x1="252.61" y1="252.76" x2="252.9" y2="249.77" stroke="#008000" stroke-width="2.1"/>
<line x1="278.14" y1="255.17" x2="278.42" y2="252.19" stroke="#008000" stroke-width="2.1"/>
<line x1="303.68" y1="257.48" x2="304.4" y2="249.31" stroke="#008000" stroke-width="2.1"/>
<line x1="329.23" y1="259.67" x2="329.48" y2="256.68" stroke="#008000" stroke-width="2.1"/>
<line x1="354.79" y1="261.75" x2="355.02" y2="258.76" stroke="#008000" stroke-width="2.1"/>
<line x1="380.36" y1="263.71" x2="380.58" y2="260.72" stroke="#008000" stroke-width="2.1"/>
<line x1="405.93" y1="265.56" x2="406.14" y2="262.57" stroke="#008000" stroke-width="2.1"/>
<line x1="431.52" y1="267.3" x2="432.05" y2="259.12" stroke="#008000" stroke-width="2.1"/>
<line x1="457.11" y1="268.93" x2="457.29" y2="265.94" stroke="#008000" stroke-width="2.1"/>
<line x1="482.71" y1="270.44" x2="482.88" y2="267.45" stroke="#008000" stroke-width="2.1"/>
<line x1="508.31" y1="271.84" x2="508.47" y2="268.85" stroke="#008000" stroke-width="2.1"/>
<line x1="533.92" y1="273.13" x2="534.07" y2="270.13" stroke="#008000" stroke-width="2.1"/>
<line x1="559.54" y1="274.3" x2="559.9" y2="266.11" stroke="#008000" stroke-width="2.1"/>
<line x1="585.16" y1="275.36" x2="585.28" y2="272.36" stroke="#008000" stroke-width="2.1"/>
<line x1="610.79" y1="276.31" x2="610.89" y2="273.31" stroke="#008000" stroke-width="2.1"/>
<line x1="636.42" y1="277.14" x2="636.51" y2="274.14" stroke="#008000" stroke-width="2.1"/>
<line x1="-14.64" y1="306.74" x2="-15.06" y2="309.71" stroke="#008000" stroke-width="2.1"/>
<line x1="11.29" y1="310.36" x2="10.89" y2="313.34" stroke="#008000" stroke-width="2.1"/>
<line x1="37.23" y1="313.87" x2="36.15" y2="322" stroke="#008000" stroke-width="2.1"/>
<line x1="63.16" y1="317.25" x2="62.78" y2="320.23" stroke="#008000" stroke-width="2.1"/>
<line x1="89.09" y1="320.52" x2="88.72" y2="323.5" stroke="#008000" stroke-width="2.1"/>
<line x1="115.02" y1="323.67" x2="114.67" y2="326.65" stroke="#008000" stroke-width="2.1"/>
<line x1="140.96" y1="326.71" x2="140.61" y2="329.69" stroke="#008000" stroke-width="2.1"/>
<line x1="166.89" y1="329.63" x2="165.99" y2="337.78" stroke="#008000" stroke-width="2.1"/>
<line x1="192.82" y1="332.43" x2="192.51" y2="335.41" stroke="#008000" stroke-width="2.1"/>
<line x1="218.75" y1="335.12" x2="218.45" y2="338.1" stroke="#008000" stroke-width="2.1"/>
<line x1="244.69" y1="337.69" x2="244.4" y2="340.67" stroke="#008000" stroke-width="2.1"/>
<line x1="270.62" y1="340.14" x2="270.34" y2="343.13" stroke="#008000" stroke-width="2.1"/>
<line x1="296.55" y1="342.48" x2="295.83" y2="350.65" stroke="#008000" stroke-width="2.1"/>
<line x1="322.48" y1="344.7" x2="322.23" y2="347.69" stroke="#008000" stroke-width="2.1"/>
<line x1="348.42" y1="346.81" x2="348.18" y2="349.8" stroke="#008000" stroke-width="2.1"/>
<line x1="374.35" y1="348.8" x2="374.12" y2="351.79" stroke="#008000" stroke-width="2.1"/>
<line x1="400.28" y1="350.68" x2="400.07" y2="353.67" stroke="#008000" stroke-width="2.1"/>
<line x1="426.21" y1="352.44" x2="425.67" y2="360.62" stroke="#008000" stroke-width="2.1"/>
<line x1="452.14" y1="354.09" x2="451.96" y2="357.08" stroke="#008000" stroke-width="2.1"/>
<line x1="478.08" y1="355.62" x2="477.91" y2="358.61" stroke="#008000" stroke-width="2.1"/>
<line x1="504.01" y1="357.03" x2="503.85" y2="360.03" stroke="#008000" stroke-width="2.1"/>
<line x1="529.94" y1="358.34" x2="529.8" y2="361.33" stroke="#008000" stroke-width="2.1"/>
<line x1="555.87" y1="359.52" x2="555.52" y2="367.72" stroke="#008000" stroke-width="2.1"/>
<line x1="581.81" y1="360.6" x2="581.69" y2="363.59" stroke="#008000" stroke-width="2.1"/>
<line x1="607.74" y1="361.55" x2="607.63" y2="364.55" stroke="#008000" stroke-width="2.1"/>
<line x1="633.67" y1="362.4" x2="633.58" y2="365.4" stroke="#008000" stroke-width="2.1"/>
<text x="34.8" y="209.9" font-size="7.7" fill="#1c1c1c" textLength="33.1" lengthAdjust="spacing">910 kbp</text>
<text x="162.1" y="225.7" font-size="7.7" fill="#1c1c1c" textLength="33.1" lengthAdjust="spacing">905 kbp</text>
<text x="289.8" y="237.9" font-size="7.7" fill="#1c1c1c" textLength="33.1" lengthAdjust="spacing">900 kbp</text>
<text x="417.2" y="247.4" font-size="7.7" fill="#1c1c1c" textLength="33.1" lengthAdjust="spacing">895 kbp</text>
<text x="544.2" y="255.0" font-size="7.7" fill="#1c1c1c" textLength="33.1" lengthAdjust="spacing">890 kbp</text>
<line x1="61.07" y1="169.27" x2="85.41" y2="222.91" stroke="#0000ff" stroke-width="1.1"/>
<text class="gl" x="42.2 50.7 56.9 63.8 69.9 76" y="167" fill="#0000ff">MTH996</text>
<line x1="107.63" y1="175.29" x2="135.46" y2="228.89" stroke="#0000ff" stroke-width="1.1"/>
<text class="gl" x="89.2 97.7 103.9 110.8 116.9 123" y="173" fill="#0000ff">MTH995</text>
<line x1="152.75" y1="180.24" x2="170.32" y2="232.95" stroke="#0000ff" stroke-width="1.1"/>
<text class="gl" x="134.2 142.7 148.9 155.8 161.9 168" y="178" fill="#0000ff">MTH994</text>
<line x1="201.18" y1="185.22" x2="189.78" y2="234.97" stroke="#0000ff" stroke-width="1.1"/>
<text class="gl" x="182.2 190.7 196.9 203.8 209.9 216" y="183" fill="#0000ff">MTH993</text>
<line x1="248.54" y1="190.41" x2="206.33" y2="236.74" stroke="#0000ff" stroke-width="1.1"/>
<text class="gl" x="228.2 236.7 242.9 249.8 255.9 262" y="188" fill="#0000ff">MTH992</text>
<line x1="293.68" y1="194.59" x2="221.14" y2="238.52" stroke="#0000ff" stroke-width="1.1"/>
<text class="gl" x="273.2 281.7 287.9 294.8 300.9 307" y="192" fill="#0000ff">MTH991</text>
<line x1="338.41" y1="198.46" x2="398.74" y2="253.68" stroke="#0000ff" stroke-width="1.1"/>
<text class="gl" x="320.2 328.7 334.9 341.8 347.9 354" y="196" fill="#0000ff">MTH982</text>
<line x1="385.58" y1="202.32" x2="418.52" y2="255.85" stroke="#0000ff" stroke-width="1.1"/>
<text class="gl" x="367.2 375.7 381.9 388.8 394.9 401" y="200" fill="#0000ff">MTH981</text>
<line x1="430.8" y1="205.23" x2="444.25" y2="256.97" stroke="#0000ff" stroke-width="1.1"/>
<text class="gl" x="412.2 420.7 426.9 433.8 439.9 446" y="203" fill="#0000ff">MTH980</text>
<line x1="464.04" y1="167.2" x2="458.94" y2="258" stroke="#0000ff" stroke-width="1.1"/>
<text class="gl" x="445.2 453.7 459.9 466.8 472.9 479" y="165" fill="#0000ff">MTH979</text>
<line x1="485.03" y1="188.2" x2="481.96" y2="259" stroke="#0000ff" stroke-width="1.1"/>
<text class="gl" x="466.2 474.7 480.9 487.8 493.9 500" y="186" fill="#0000ff">MTH978</text>
<line x1="530.03" y1="211.2" x2="527.96" y2="262" stroke="#0000ff" stroke-width="1.1"/>
<text class="gl" x="511.2 519.7 525.9 532.8 538.9 545" y="209" fill="#0000ff">MTH977</text>
<line x1="574.25" y1="213.24" x2="557.68" y2="262.95" stroke="#0000ff" stroke-width="1.1"/>
<text class="gl" x="555.2 563.7 569.9 576.8 582.9 589" y="211" fill="#0000ff">MTH976</text>
<line x1="134.59" y1="383.51" x2="233.19" y2="347.93" stroke="#ff0000" stroke-width="1.1"/>
<text class="gl" x="116.2 124.7 130.9 137.8 143.9 150" y="394" fill="#ff0000">MTH990</text>
<line x1="182.68" y1="389.71" x2="255.18" y2="350.91" stroke="#ff0000" stroke-width="1.1"/>
<text class="gl" x="164.2 172.7 178.9 185.8 191.9 198" y="399" fill="#ff0000">MTH989</text>
<line x1="229.04" y1="395.15" x2="265.13" y2="351.85" stroke="#ff0000" stroke-width="1.1"/>
<text class="gl" x="210.2 218.7 224.9 231.8 237.9 244" y="404" fill="#ff0000">MTH988</text>
<line x1="274.67" y1="399.46" x2="285.04" y2="353.8" stroke="#ff0000" stroke-width="1.1"/>
<text class="gl" x="255.2 263.7 269.9 276.8 282.9 289" y="408" fill="#ff0000">MTH987</text>
<line x1="322.44" y1="403.44" x2="307.94" y2="355.81" stroke="#ff0000" stroke-width="1.1"/>
<text class="gl" x="302.2 310.7 316.9 323.8 329.9 336" y="412" fill="#ff0000">MTH986</text>
<line x1="368.86" y1="407.23" x2="333.89" y2="356.84" stroke="#ff0000" stroke-width="1.1"/>
<text class="gl" x="348.2 356.7 362.9 369.8 375.9 382" y="416" fill="#ff0000">MTH985</text>
<line x1="415.08" y1="410.04" x2="361.86" y2="358.86" stroke="#ff0000" stroke-width="1.1"/>
<text class="gl" x="395.2 403.7 409.9 416.8 422.9 429" y="419" fill="#ff0000">MTH984</text>
<line x1="462.28" y1="412.79" x2="377.83" y2="360.9" stroke="#ff0000" stroke-width="1.1"/>
<text class="gl" x="442.2 450.7 456.9 463.8 469.9 476" y="422" fill="#ff0000">MTH983</text>
<line x1="573.97" y1="418.5" x2="575" y2="371.8" stroke="#ff0000" stroke-width="1.1"/>
<text class="gl" x="554.2 562.7 568.9 575.8 581.9 588" y="428" fill="#ff0000">MTH975</text>
<text y="586.7" font-size="12" fill="#000" ><tspan x="8.5" textLength="59" lengthAdjust="spacingAndGlyphs">Accession:</tspan> <tspan x="72.7" textLength="71" lengthAdjust="spacingAndGlyphs">NC_000916</tspan></text>
<text y="586.7" font-size="12" fill="#000" ><tspan x="262" textLength="55.5" lengthAdjust="spacingAndGlyphs">Topology:</tspan> <tspan x="324" textLength="43.2" lengthAdjust="spacingAndGlyphs">circular;</tspan> <tspan x="373.2" textLength="41.8" lengthAdjust="spacingAndGlyphs">Length:</tspan> <tspan x="420" textLength="61.7" lengthAdjust="spacingAndGlyphs">1,751,377</tspan> <tspan x="487.5" textLength="18" lengthAdjust="spacingAndGlyphs">bp;</tspan> <tspan x="511.2" textLength="38.8" lengthAdjust="spacingAndGlyphs">Genes:</tspan> <tspan x="556.5" textLength="34" lengthAdjust="spacingAndGlyphs">1,921</tspan></text>
</svg>
</body></html>
